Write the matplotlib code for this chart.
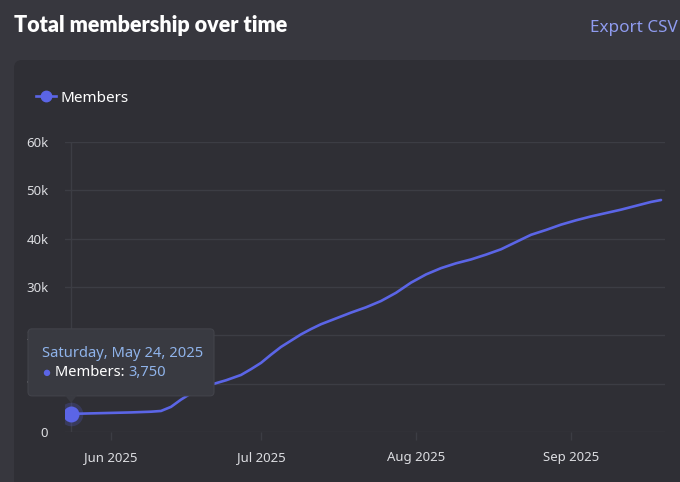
import matplotlib
matplotlib.use("Agg")
import matplotlib.pyplot as plt
import matplotlib.dates as mdates
from matplotlib.patches import FancyBboxPatch, Polygon, Circle
from matplotlib.lines import Line2D
from matplotlib.transforms import IdentityTransform
import numpy as np
import pandas as pd

# ---------------- data ----------------
dates = ["2025-05-24", "2025-05-28", "2025-06-01", "2025-06-05", "2025-06-09",
         "2025-06-11", "2025-06-13", "2025-06-15", "2025-06-17", "2025-06-19",
         "2025-06-21", "2025-06-24", "2025-06-27", "2025-06-29", "2025-07-01",
         "2025-07-03", "2025-07-05", "2025-07-07", "2025-07-09", "2025-07-11",
         "2025-07-13", "2025-07-16", "2025-07-19", "2025-07-22", "2025-07-25",
         "2025-07-28", "2025-07-31", "2025-08-03", "2025-08-06", "2025-08-09",
         "2025-08-12", "2025-08-15", "2025-08-18", "2025-08-21", "2025-08-24",
         "2025-08-27", "2025-08-30", "2025-09-02", "2025-09-05", "2025-09-08",
         "2025-09-11", "2025-09-14", "2025-09-17", "2025-09-19"]
members = [3750, 3850, 3950, 4050, 4200,
           4350, 5200, 6700, 8000, 9000,
           9800, 10700, 11800, 13000, 14300,
           16000, 17600, 18900, 20200, 21300,
           22300, 23500, 24700, 25800, 27100,
           28800, 30900, 32600, 33900, 34900,
           35700, 36700, 37800, 39300, 40800,
           41800, 42900, 43800, 44600, 45300,
           46000, 46800, 47600, 48000]
y_ticks = [0, 10000, 20000, 30000, 40000, 50000, 60000]
y_tick_labels = ["0", "10k", "20k", "30k", "40k", "50k", "60k"]
title = "Total membership over time"
series_name = "Members"
tooltip_date = "Saturday, May 24, 2025"
tooltip_value = "3,750"

# ---------------- style ----------------
W, H = 680, 482
OUTER = "#37373e"
PANEL = "#2f2f35"
GRID = "#3c3d44"
LINE = "#5b65e6"
TEXT = "#dcdde1"
LINK = "#8f9bef"
TIP_BG = "#393a41"
TIP_BLUE = "#8fb3ea"
FONT = ["Noto Sans", "DejaVu Sans"]
plt.rcParams["font.family"] = FONT

x = pd.to_datetime(dates)

fig = plt.figure(figsize=(W / 100, H / 100), dpi=100, facecolor=OUTER)

# panel
panel = FancyBboxPatch((14, -20), W + 20, (H - 60) + 20, boxstyle="round,pad=0,rounding_size=8",
                       transform=IdentityTransform(), facecolor=PANEL, edgecolor="none", zorder=-5)
fig.patches.append(panel)

ax = fig.add_axes([65 / W, 50 / H, 600 / W, 290 / H])
ax.set_zorder(1)
ax.set_facecolor("none")
ax.plot(x, members, color=LINE, lw=1.9, solid_capstyle="round", zorder=3)

ax.set_ylim(0, 60000)
ax.set_xlim(x[0] - pd.Timedelta(days=1.2), x[-1] + pd.Timedelta(days=0.8))
ax.set_yticks(y_ticks)
ax.set_yticklabels(y_tick_labels)
ax.xaxis.set_major_locator(mdates.MonthLocator(bymonthday=1))
ax.xaxis.set_major_formatter(mdates.DateFormatter("%b %Y"))
for s in ax.spines.values():
    s.set_visible(False)
ax.grid(axis="y", color=GRID, lw=1, zorder=1)
ax.tick_params(axis="y", length=0, pad=12, labelsize=9.5, labelcolor=TEXT)
ax.tick_params(axis="x", length=6, width=1, color=GRID, pad=8, labelsize=9.5, labelcolor=TEXT)

# hover crosshair
ax.axvline(x[0], color=GRID, lw=1, zorder=1)
# hovered point with halo
ax.plot([x[0]], [members[0]], "o", ms=17, color=LINE, alpha=0.22, mec="none", zorder=4)
ax.plot([x[0]], [members[0]], "o", ms=11.5, color=LINE, mec="none", zorder=5)

# legend
handle = Line2D([], [], color=LINE, lw=1.9, marker="o", ms=7.5)
leg = ax.legend([handle], [series_name], loc="center left",
                bbox_to_anchor=(36 / W, 1 - 98 / H), bbox_transform=fig.transFigure,
                frameon=False, fontsize=11, labelcolor="white",
                handlelength=1.3, handletextpad=0.3, borderpad=0, borderaxespad=0)

# title + export link
fig.text(14 / W, 1 - 25 / H, title, ha="left", va="center", fontsize=15.5,
         fontweight="heavy", color="white", family=["Lato", "DejaVu Sans"])
fig.text(678 / W, 1 - 28 / H, "Export CSV", ha="right", va="center", fontsize=12.3,
         color=LINK)

# tooltip (anchored to hovered point)
px, py = ax.transData.transform((mdates.date2num(x[0]), members[0]))
bx0, bx1 = px - 43, px + 143
by0, by1 = py + 18, py + 85
tip = FancyBboxPatch((bx0, by0), bx1 - bx0, by1 - by0, boxstyle="round,pad=0,rounding_size=4",
                     transform=IdentityTransform(), facecolor=TIP_BG, edgecolor="#42434a",
                     lw=0.8, zorder=20)
fig.patches.append(tip)
arrow = Polygon([[px - 6, by0 + 0.5], [px + 6, by0 + 0.5], [px, by0 - 7]], closed=True,
                transform=IdentityTransform(), facecolor=TIP_BG, edgecolor="none", zorder=21)
fig.patches.append(arrow)
fig.text(bx0 + 14, by1 - 25, tooltip_date, transform=IdentityTransform(), ha="left",
         va="center", fontsize=10.6, color=TIP_BLUE, zorder=22)
dot = Circle((bx0 + 19, by1 - 44), 3.2, transform=IdentityTransform(), facecolor=LINE,
             edgecolor="none", zorder=22)
fig.patches.append(dot)
t2 = fig.text(bx0 + 27, by1 - 44, "Members: ", transform=IdentityTransform(), ha="left",
              va="center", fontsize=10.6, color="white", zorder=22)
fig.canvas.draw()
bb = t2.get_window_extent()
fig.text(bb.x1, by1 - 44, tooltip_value, transform=IdentityTransform(), ha="left",
         va="center", fontsize=10.6, color=TIP_BLUE, zorder=22)

fig.savefig("out.png", dpi=100, facecolor=OUTER)
